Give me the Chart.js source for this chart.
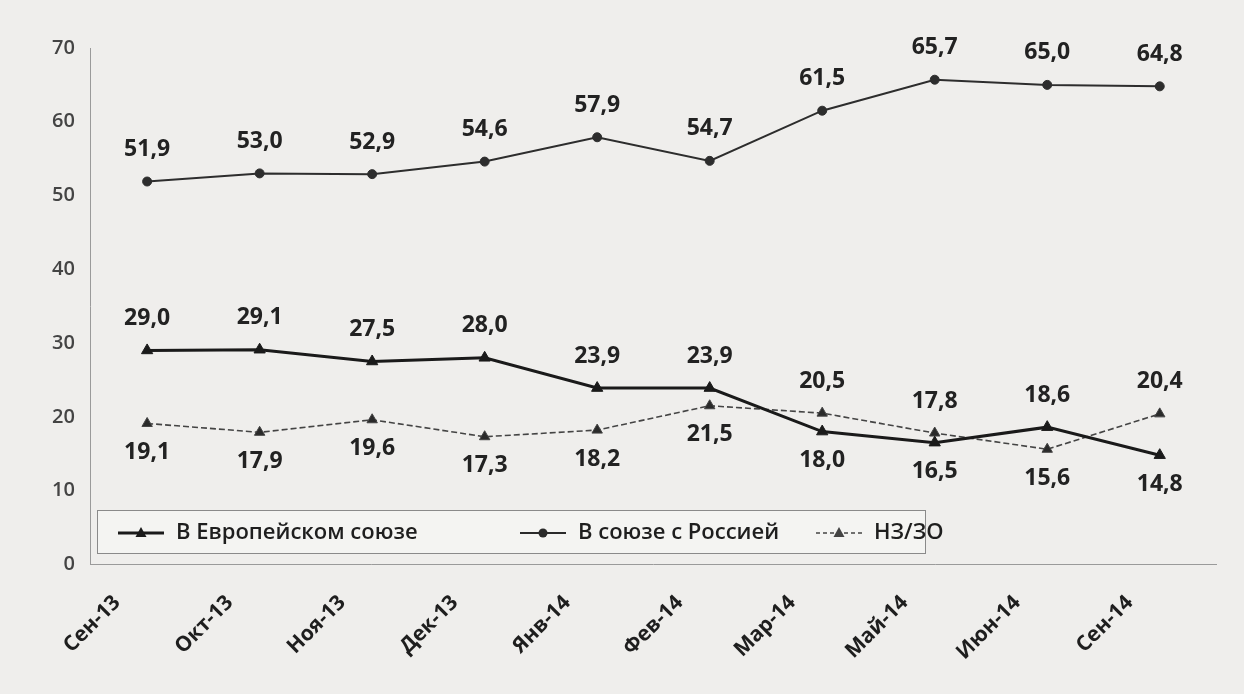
<!DOCTYPE html>
<html>
<head>
<meta charset="utf-8">
<script src="https://cdn.jsdelivr.net/npm/chart.js@4/dist/chart.umd.min.js"></script>
<style>
  html, body { margin: 0; padding: 0; background: #efeeec; }
  #wrap { position: relative; width: 1244px; height: 694px; }
</style>
</head>
<body>
<div id="wrap"><canvas id="chart" width="1244" height="694"></canvas></div>
<script>
const months = ["Сен-13", "Окт-13", "Ноя-13", "Дек-13", "Янв-14", "Фев-14", "Мар-14", "Май-14", "Июн-14", "Сен-14"];
const euValues = [29.0, 29.1, 27.5, 28.0, 23.9, 23.9, 18.0, 16.5, 18.6, 14.8];
const ruValues = [51.9, 53.0, 52.9, 54.6, 57.9, 54.7, 61.5, 65.7, 65.0, 64.8];
const nzValues = [19.1, 17.9, 19.6, 17.3, 18.2, 21.5, 20.5, 17.8, 15.6, 20.4];
const yTicks = [0, 10, 20, 30, 40, 50, 60, 70];

const fmt = v => v.toFixed(1).replace(".", ",");

// value labels: the higher of EU / НЗ goes above its point, the lower below
const labelPlugin = {
    id: "valueLabels",
    afterDatasetsDraw(chart) {
        const ctx = chart.ctx;
        ctx.save();
        ctx.font = "bold 23px 'Open Sans', sans-serif";
        ctx.fillStyle = "#222";
        ctx.textAlign = "center";
        ctx.textBaseline = "middle";
        chart.data.datasets.forEach((ds, di) => {
            const meta = chart.getDatasetMeta(di);
            meta.data.forEach((pt, i) => {
                let above = true;
                if (di === 0) above = euValues[i] >= nzValues[i];
                if (di === 2) above = nzValues[i] > euValues[i];
                const y = above ? pt.y - 32 : pt.y + 29;
                ctx.fillText(fmt(ds.data[i]), pt.x, y);
            });
        });
        ctx.restore();
    }
};

const legendPlugin = {
    id: "boxLegend",
    afterDraw(chart) {
        const ctx = chart.ctx;
        ctx.save();
        ctx.fillStyle = "#f4f4f2";
        ctx.fillRect(97, 510, 828, 43);
        ctx.strokeStyle = "#8a8a8a";
        ctx.lineWidth = 1;
        ctx.strokeRect(97.5, 510.5, 828, 43);
        const items = [
            { x: 118, text: "В Европейском союзе", color: "#1a1a1a", width: 3, dash: [], style: "triangle" },
            { x: 520, text: "В союзе с Россией", color: "#2a2a2a", width: 2, dash: [], style: "circle" },
            { x: 816, text: "НЗ/ЗО", color: "#444", width: 1.5, dash: [4, 3], style: "triangle" }
        ];
        ctx.font = "600 22px 'Open Sans', sans-serif";
        ctx.textBaseline = "middle";
        items.forEach(it => {
            const yy = 533;
            ctx.strokeStyle = it.color;
            ctx.lineWidth = it.width;
            ctx.setLineDash(it.dash);
            ctx.beginPath();
            ctx.moveTo(it.x, yy);
            ctx.lineTo(it.x + 46, yy);
            ctx.stroke();
            ctx.setLineDash([]);
            ctx.fillStyle = it.color;
            const cx = it.x + 23;
            ctx.beginPath();
            if (it.style === "circle") {
                ctx.arc(cx, yy, 4.5, 0, Math.PI * 2);
            } else {
                ctx.moveTo(cx, yy - 6);
                ctx.lineTo(cx + 5.5, yy + 4);
                ctx.lineTo(cx - 5.5, yy + 4);
                ctx.closePath();
            }
            ctx.fill();
            ctx.fillStyle = "#1e1e1e";
            ctx.textAlign = "left";
            ctx.fillText(it.text, it.x + 58, yy);
        });
        ctx.restore();
    }
};

new Chart(document.getElementById("chart"), {
    type: "line",
    data: {
        labels: months,
        datasets: [
            {
                label: "В Европейском союзе",
                data: euValues,
                borderColor: "#1a1a1a",
                backgroundColor: "#1a1a1a",
                borderWidth: 3,
                pointStyle: "triangle",
                pointRadius: 6.5,
                pointBorderWidth: 1,
                tension: 0
            },
            {
                label: "В союзе с Россией",
                data: ruValues,
                borderColor: "#2d2d2d",
                backgroundColor: "#2d2d2d",
                borderWidth: 2,
                pointStyle: "circle",
                pointRadius: 4.5,
                pointBorderWidth: 1,
                tension: 0
            },
            {
                label: "НЗ/ЗО",
                data: nzValues,
                borderColor: "#444444",
                backgroundColor: "#2a2a2a",
                borderWidth: 1.6,
                borderDash: [6, 3],
                pointStyle: "triangle",
                pointRadius: 6,
                pointBorderWidth: 1,
                tension: 0
            }
        ]
    },
    options: {
        responsive: false,
        animation: false,
        layout: { padding: { top: 48, right: 28, left: 44, bottom: 3 } },
        plugins: {
            legend: { display: false },
            tooltip: { enabled: false }
        },
        scales: {
            x: {
                offset: true,
                grid: { display: false, drawTicks: false },
                border: { color: "#9a9a9a", width: 1 },
                ticks: {
                    color: "#1e1e1e",
                    font: { size: 21, weight: "bold", family: "'Open Sans', sans-serif" },
                    maxRotation: 45,
                    minRotation: 45,
                    labelOffset: -30,
                    padding: 26
                }
            },
            y: {
                min: 0,
                max: 70,
                afterBuildTicks: axis => { axis.ticks = yTicks.map(v => ({ value: v })); },
                grid: { display: false, drawTicks: true, tickLength: 8, color: "#8a8a8a", drawOnChartArea: false },
                border: { color: "#9a9a9a", width: 1 },
                ticks: {
                    color: "#444",
                    font: { size: 20, weight: "600", family: "'Open Sans', sans-serif" },
                    padding: 8
                }
            }
        }
    },
    plugins: [labelPlugin, legendPlugin]
});
</script>
</body>
</html>
